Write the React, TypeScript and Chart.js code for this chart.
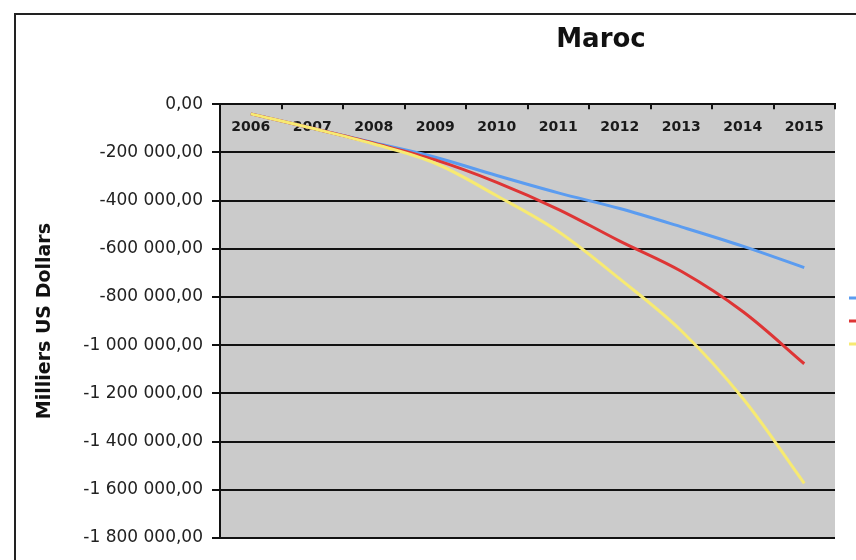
import React, { useEffect, useRef } from 'react';
import { Chart, registerables } from 'chart.js';

Chart.register(...registerables);

// Years on the category axis
const years = ['2006', '2007', '2008', '2009', '2010', '2011', '2012', '2013', '2014', '2015'];

// Cumulative values, thousands of US dollars
const serieBleue = [-40000, -100000, -160000, -220000, -296000, -368000, -433000, -509000, -589000, -678000];
const serieRouge = [-40000, -100000, -162000, -231000, -324000, -436000, -568000, -693000, -860000, -1077000];
const serieJaune = [-40000, -100000, -165000, -245000, -380000, -528000, -725000, -940000, -1220000, -1573000];

const seriesNames = ['Scénario 1', 'Scénario 2', 'Scénario 3'];

const yMin = -1800000;
const yMax = 0;
const yStep = 200000;

const FONT = "'DejaVu Sans', Verdana, sans-serif";

// French number format: "-1 200 000,00"
function formatFr(v: number): string {
  const [intPart, dec] = Math.abs(v).toFixed(2).split('.');
  const grouped = intPart.replace(/\B(?=(\d{3})+(?!\d))/g, ' ');
  return (v < 0 ? '-' : '') + grouped + ',' + dec;
}

// Grey plot area
const plotBackground = {
  id: 'plotBackground',
  beforeDraw(chart: any) {
    const { ctx, chartArea } = chart;
    if (!chartArea) return;
    ctx.save();
    ctx.fillStyle = '#cbcbcb';
    ctx.fillRect(chartArea.left, chartArea.top, chartArea.right - chartArea.left, chartArea.bottom - chartArea.top);
    ctx.restore();
  },
};

// Year labels sit just under the top axis line, inside the plot area,
// beneath the curves.
const innerCategoryLabels = {
  id: 'innerCategoryLabels',
  beforeDatasetsDraw(chart: any) {
    const { ctx, chartArea } = chart;
    const xScale = chart.scales.x;
    if (!chartArea || !xScale) return;
    ctx.save();
    ctx.font = `bold 14px ${FONT}`;
    ctx.fillStyle = '#1a1a1a';
    ctx.textAlign = 'center';
    ctx.textBaseline = 'middle';
    const labels: string[] = chart.data.labels;
    labels.forEach((lab, i) => {
      ctx.fillText(lab, xScale.getPixelForValue(i), chartArea.top + 23);
    });
    ctx.restore();
  },
};

export default function App() {
  const canvasRef = useRef<HTMLCanvasElement>(null);

  useEffect(() => {
    const canvas = canvasRef.current;
    if (!canvas) return;
    const chart = new Chart(canvas, {
      type: 'line',
      data: {
        labels: years,
        datasets: [
          {
            label: seriesNames[0],
            data: serieBleue,
            borderColor: '#5b9cf0',
            backgroundColor: '#5b9cf0',
            borderWidth: 3,
            pointRadius: 0,
            tension: 0.35,
            order: 2,
          },
          {
            label: seriesNames[1],
            data: serieRouge,
            borderColor: '#de3535',
            backgroundColor: '#de3535',
            borderWidth: 3,
            pointRadius: 0,
            tension: 0.35,
            order: 1,
          },
          {
            label: seriesNames[2],
            data: serieJaune,
            borderColor: '#f7ea72',
            backgroundColor: '#f7ea72',
            borderWidth: 3,
            pointRadius: 0,
            tension: 0.35,
            order: 0,
          },
        ],
      },
      options: {
        responsive: false,
        animation: false,
        layout: { padding: { top: 0, left: 0, right: 0, bottom: 22 } },
        plugins: {
          tooltip: { enabled: false },
          title: {
            display: true,
            text: 'Maroc',
            color: '#111',
            font: { family: FONT, size: 26, weight: 'bold' },
            padding: { top: 25, bottom: 48 },
          },
          legend: {
            display: true,
            position: 'right',
            fullSize: false,
            maxWidth: 367,
            labels: {
              usePointStyle: true,
              pointStyle: 'line',
              pointStyleWidth: 360,
              padding: 14,
              color: '#111',
              font: { family: FONT, size: 9 },
              sort: (a: any, b: any) => a.datasetIndex - b.datasetIndex,
            },
          },
        },
        scales: {
          x: {
            type: 'category',
            position: 'top',
            offset: true,
            grid: {
              offset: true,
              drawOnChartArea: false,
              drawTicks: true,
              tickLength: -5,
              color: '#111',
              lineWidth: 2,
            },
            border: { display: true, color: '#111', width: 2 },
            ticks: { display: false, autoSkip: false, maxRotation: 0 },
            afterFit: (scale: any) => {
              scale.height = 0;
            },
          },
          y: {
            position: 'left',
            min: yMin,
            max: yMax,
            grid: {
              color: '#111',
              lineWidth: 2,
              drawTicks: true,
              tickLength: 8,
            },
            border: { display: true, color: '#111', width: 2 },
            ticks: {
              stepSize: yStep,
              padding: 9,
              color: '#222',
              font: { family: FONT, size: 17 },
              callback: (v: any) => formatFr(Number(v)),
            },
            title: {
              display: true,
              text: 'Milliers US Dollars',
              color: '#111',
              font: { family: FONT, size: 19, weight: 'bold' },
              padding: { top: 34, bottom: 0 },
            },
            afterFit: (scale: any) => {
              scale.width = 220;
            },
          },
        },
      },
      plugins: [plotBackground, innerCategoryLabels],
    });
    return () => chart.destroy();
  }, []);

  return (
    <div
      style={{
        position: 'fixed',
        left: 0,
        top: 0,
        width: 856,
        height: 560,
        overflow: 'hidden',
        background: '#fff',
      }}
    >
      <div
        style={{
          position: 'absolute',
          left: 14,
          top: 13,
          width: 1180,
          height: 600,
          border: '2px solid #222',
          boxSizing: 'border-box',
        }}
      />
      <canvas ref={canvasRef} width={1202} height={560} style={{ position: 'absolute', left: 0, top: 0 }} />
    </div>
  );
}
